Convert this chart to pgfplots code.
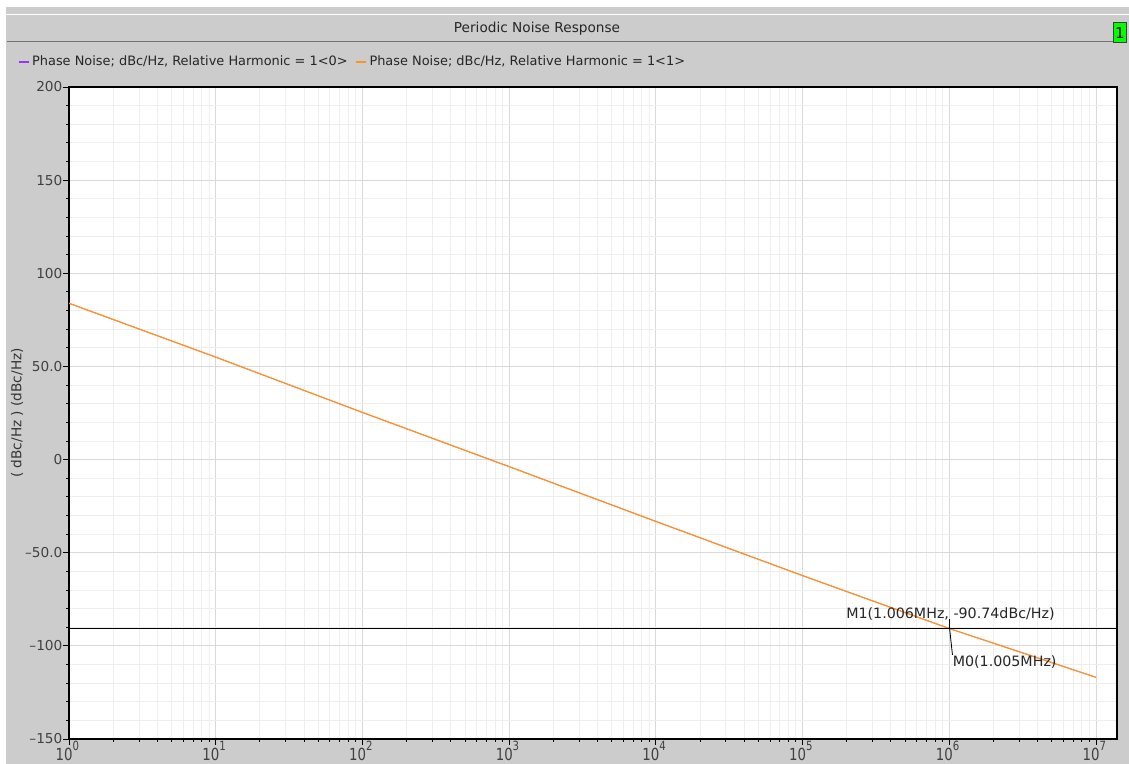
\documentclass[border=0pt]{standalone}
\usepackage{pgfplots}
\pgfplotsset{compat=1.18}
\usepackage{fontspec}
\setmainfont{DejaVu Sans}

\definecolor{panel}{HTML}{CCCCCC}
\definecolor{trace}{HTML}{FF9224}
\definecolor{traceA}{HTML}{9933FF}
\definecolor{gridmajor}{HTML}{D9D9D9}
\definecolor{gridminor}{HTML}{EEEEEE}

% decade tick label: 10 with a raised exponent that does not add to the label height
\newcommand{\dec}[1]{\scalebox{0.8}[1]{10\smash{\raisebox{0.6em}{\fontsize{7.6}{8}\selectfont #1}}}}

\begin{document}
\begin{tikzpicture}[x=0.6pt, y=0.6pt, font=\fontsize{8.2}{9.8}\selectfont]
\useasboundingbox (0,0) rectangle (1129,764);
% window background
\fill[white] (0,0) rectangle (1129,764);
\fill[panel] (6,0) rectangle (1129,757);
\draw[white, line width=0.6pt] (6,749) -- (1129,749);
\draw[black!55, line width=1pt] (7,722.5) -- (1113,722.5);
\node[text=black!85] at (537,735) {Periodic Noise Response};
\draw[fill=green, draw=black!75, line width=0.5pt] (1113.5,722) rectangle (1126.5,742);
\node[font=\rmfamily\fontsize{9}{9}\selectfont, inner sep=0pt] at (1120,731) {1};
\node[rotate=90, text=black!80] at (17,351) {( dBc/Hz ) (dBc/Hz)};

\begin{axis}[
  at={(41.4pt,15pt)}, anchor=south west,
  scale only axis, width=628.8pt, height=391.2pt,
  xmode=log, xmin=1, xmax=1.39e7,
  ymin=-150, ymax=200,
  axis background/.style={fill=white},
  xtick={1,10,100,1000,10000,100000,1000000,10000000},
  xticklabels={\dec{0},\dec{1},\dec{2},\dec{3},\dec{4},\dec{5},\dec{6},\dec{7}},
  ytick={-150,-100,-50,0,50,100,150,200},
  yticklabels={–150,–100,–50.0,0,50.0,100,150,200},
  minor y tick num=4,
  grid=both,
  major grid style={gridmajor, line width=0.5pt},
  minor grid style={gridminor, line width=0.5pt},
  tick align=outside,
  xtick pos=bottom, ytick pos=left,
  major tick length=3.4pt, minor tick length=1.8pt,
  tick style={black, line width=0.5pt},
  axis line style={black, line width=0.8pt},
  yticklabel style={text=black!75, font=\fontsize{8.2}{9}\selectfont, inner xsep=0.4pt},
  xticklabel style={text=black!75, font=\fontsize{10}{10}\selectfont,
    anchor=north, inner ysep=0pt, yshift=-1.6pt, xshift=-1pt},
  legend columns=2,
  legend cell align=left,
  legend style={at={(axis description cs:-0.0487,1.0385)}, anchor=west,
    draw=none, fill=none, inner sep=0pt,
    nodes={inner sep=0pt, text=black!85, font=\fontsize{7.75}{9.3}\selectfont},
    /tikz/every odd column/.style={column sep=1.4pt},
    /tikz/every even column/.style={column sep=4.8pt}},
  legend image code/.code={\draw[#1, line width=0.9pt] (0pt,0pt) -- (6pt,0pt);},
]
% the two harmonics coincide, so the second trace covers the first
\addplot[traceA, line width=0.35pt] coordinates {
  (1,83.9) (10,55.0) (100,25.3) (1000,-3.8) (10000,-33.2)
  (100000,-62.3) (1000000,-90.7) (10000000,-116.9)
};
\addlegendentry{Phase Noise; dBc/Hz, Relative Harmonic = 1<0>}
\addplot[trace, line width=0.75pt] coordinates {
  (1,83.9) (10,55.0) (100,25.3) (1000,-3.8) (10000,-33.2)
  (100000,-62.3) (1000000,-90.7) (10000000,-116.9)
};
\addlegendentry{Phase Noise; dBc/Hz, Relative Harmonic = 1<1>}

% marker level line
\addplot[black, line width=0.6pt, forget plot] coordinates {(1,-90.74) (1.39e7,-90.74)};

% marker annotations
\draw[black, line width=0.5pt] (axis cs:1.006e6,-90.74) -- (axis cs:1.006e6,-85.6);
\node[text=black!85, inner sep=0pt, font=\fontsize{8.55}{10}\selectfont] at (axis cs:1.019e6,-82.9) {M1(1.006MHz, -90.74dBc/Hz)};
\draw[black, line width=0.5pt] (axis cs:1.005e6,-90.74) -- (axis cs:1.051e6,-104.9);
\node[text=black!85, inner sep=0pt, anchor=west, font=\fontsize{8.55}{10}\selectfont] at (axis cs:1.051e6,-108.7) {M0(1.005MHz)};
\end{axis}
\end{tikzpicture}
\end{document}
